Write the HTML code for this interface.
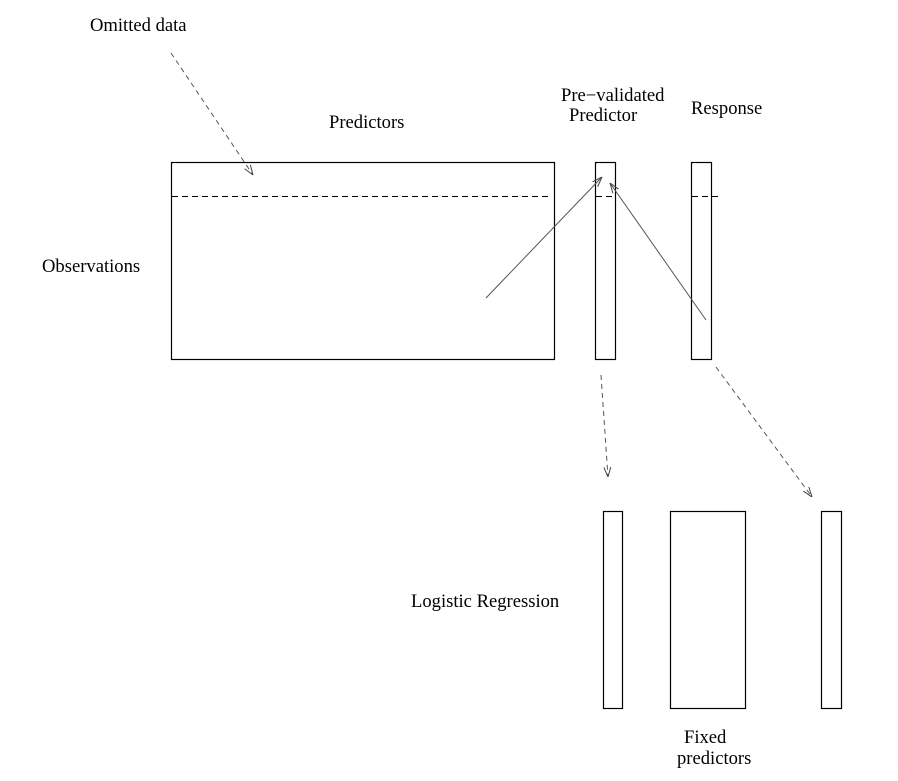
<!DOCTYPE html>
<html><head><meta charset="utf-8"><style>
html,body{margin:0;padding:0;background:#fff;}
svg{display:block;}
text{font-family:"Liberation Serif",serif;font-size:18.6px;fill:#000;}
</style></head><body>
<svg width="898" height="781" viewBox="0 0 898 781" xmlns="http://www.w3.org/2000/svg">
<defs>
<marker id="a" viewBox="0 0 10 10" refX="10" refY="5" markerWidth="10" markerHeight="10" markerUnits="userSpaceOnUse" orient="auto">
<path d="M0,1.5 L10,5 L0,8.5" fill="none" stroke="#444" stroke-width="1"/>
</marker>
</defs>
<g fill="none" stroke="#000" stroke-width="1.2">
<rect x="171.5" y="162.5" width="383" height="197"/>
<rect x="595.5" y="162.5" width="20" height="197"/>
<rect x="691.5" y="162.5" width="20" height="197"/>
<rect x="603.5" y="511.5" width="19" height="197"/>
<rect x="670.5" y="511.5" width="75" height="197"/>
<rect x="821.5" y="511.5" width="20" height="197"/>
</g>
<g stroke="#000" stroke-width="1" stroke-dasharray="6,4">
<line x1="172" y1="196.5" x2="550" y2="196.5"/>
<line x1="596" y1="196.5" x2="615" y2="196.5"/>
<line x1="692" y1="196.5" x2="720" y2="196.5"/>
</g>
<g stroke="#555" stroke-width="1" fill="none">
<line x1="486" y1="298" x2="602" y2="177" marker-end="url(#a)"/>
<line x1="706" y1="320" x2="610" y2="183" marker-end="url(#a)"/>
</g>
<g stroke="#555" stroke-width="1" fill="none" stroke-dasharray="5,4">
<line x1="171" y1="53" x2="253" y2="175" marker-end="url(#a)"/>
<line x1="601" y1="375" x2="608" y2="477" marker-end="url(#a)"/>
<line x1="716" y1="367" x2="812" y2="497" marker-end="url(#a)"/>
</g>
<text x="90" y="31">Omitted data</text>
<text x="329" y="128">Predictors</text>
<text x="561" y="101">Pre−validated</text>
<text x="569" y="121">Predictor</text>
<text x="691" y="114">Response</text>
<text x="42" y="272">Observations</text>
<text x="411" y="607">Logistic Regression</text>
<text x="684" y="743">Fixed</text>
<text x="677" y="764">predictors</text>
</svg>
</body></html>
